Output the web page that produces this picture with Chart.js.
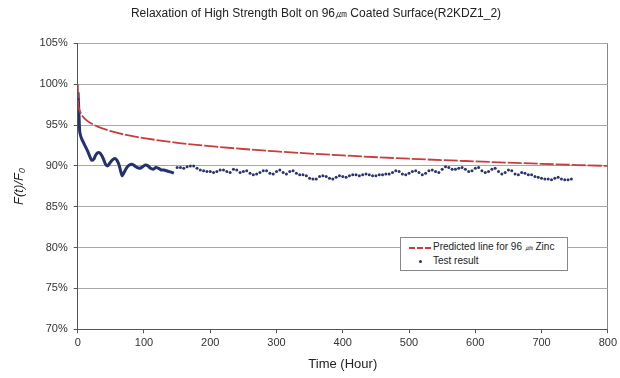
<!DOCTYPE html>
<html>
<head>
<meta charset="utf-8">
<script src="https://cdn.jsdelivr.net/npm/chart.js@4"></script>
<style>
html,body{margin:0;padding:0;background:#fff;}
#wrap{position:relative;width:620px;height:378px;}
#legend{position:absolute;left:400px;top:237px;width:168px;height:34px;border:1px solid #888;background:#fff;
 font-family:"Liberation Sans",Arial,sans-serif;font-size:10px;color:#222;box-sizing:border-box;}
#legend .row{position:absolute;left:0;height:14px;line-height:14px;white-space:nowrap;}
#legend .sw{display:inline-block;width:26px;margin-left:6px;vertical-align:middle;position:relative;height:10px;}
</style>
</head>
<body>
<div id="wrap">
<canvas id="c" width="620" height="378"></canvas>
<div id="legend">
 <div class="row" style="top:2px;"><span class="sw"><span style="position:absolute;left:2px;top:5px;width:22px;border-top:2px dashed #d03a3a;"></span></span>Predicted line for 96 <span style="font-size:8px">㎛</span> Zinc</div>
 <div class="row" style="top:16px;"><span class="sw"><span style="position:absolute;left:12px;top:4px;width:3px;height:3px;border-radius:50%;background:#2a3570;"></span></span>Test result</div>
</div>
</div>
<script>
// Predicted line (hours, ratio %)
const predT = [0,1,2,5,10,20,30,50,75,100,150,200,250,300,400,500,600,700,800];
const predV = [100,97.4,96.98,96.37,95.83,95.21,94.81,94.25,93.76,93.4,92.83,92.41,92.07,91.77,91.28,90.88,90.55,90.25,89.99];

// Test result, dense early recording (hours, %)
const denseT = [0.5,1,1.5,2,2.5,3,4,6,9,12,15,18,21,24,27,30,33,36,39,42,45,48,52,56,59,62,65,67,70,74,78,82,86,90,94,98,102,106,110,114,118,122,126,130,134,138,142,145];
const denseV = [99.0,98.0,97.0,96.0,95.0,94.2,93.8,93.3,92.8,92.3,91.8,91.2,90.7,90.8,91.3,91.6,91.6,91.3,90.8,90.2,90.0,90.3,90.7,90.9,90.7,90.2,89.3,88.8,89.2,89.8,90.1,90.2,90.0,89.8,89.7,89.9,90.1,90.0,89.7,89.6,89.8,89.7,89.5,89.5,89.4,89.3,89.2,89.1];

// Test result, sparse later recording (hours, %)
const testT = [150,155,160,165,170,175,180,185,190,195,200,205,210,215,220,225,230,235,240,245,250,255,260,265,270,275,280,285,290,295,300,305,310,315,320,325,330,335,340,345,350,355,360,365,370,375,380,385,390,395,400,405,410,415,420,425,430,435,440,445,450,455,460,465,470,475,480,485,490,495,500,505,510,515,520,525,530,535,540,545,550,555,560,565,570,575,580,585,590,595,600,605,610,615,620,625,630,635,640,645,650,655,660,665,670,675,680,685,690,695,700,705,710,715,720,725,730,735,740,745];
const testV = [89.8,89.8,89.7,89.9,90.0,90.0,89.7,89.5,89.4,89.3,89.3,89.2,89.3,89.5,89.5,89.3,89.2,89.6,89.5,89.2,89.3,89.4,89.1,88.9,89.0,89.2,89.4,89.4,89.1,89.0,89.3,89.5,89.2,89.0,89.3,89.4,89.1,88.9,88.9,88.8,88.5,88.4,88.4,88.7,88.8,88.7,88.5,88.4,88.6,88.8,88.7,88.6,88.8,88.9,88.9,88.8,88.9,89.0,88.9,88.8,88.8,88.9,88.9,89.0,89.0,89.2,89.4,89.3,89.0,88.9,89.1,89.3,89.4,89.2,88.9,89.1,89.4,89.5,89.3,89.2,89.6,89.9,89.8,89.6,89.6,89.7,89.8,89.6,89.3,89.4,89.7,89.8,89.4,89.2,89.3,89.6,89.7,89.3,89.0,89.2,89.5,89.4,89.0,88.9,89.2,89.1,88.9,88.9,88.7,88.6,88.5,88.4,88.4,88.3,88.5,88.6,88.4,88.3,88.3,88.4];

// Axis ticks
const xTicks = [0,100,200,300,400,500,600,700,800];
const yTicks = [70,75,80,85,90,95,100,105];

const zip = (a,b) => a.map((x,i)=>({x:x,y:b[i]}));
const FONT = '"Liberation Sans", Arial, sans-serif';

new Chart(document.getElementById('c'), {
  type: 'scatter',
  data: {
    datasets: [
      {label:'Predicted line', data: zip(predT,predV), showLine:true, borderColor:'#cc3c3c', borderWidth:1.8,
       borderDash:[14,2], pointRadius:0, tension:0.4, cubicInterpolationMode:'monotone', order:1},
      {label:'Test early', data: zip(denseT,denseV), showLine:true, borderColor:'#26306e', borderWidth:3,
       pointRadius:0, tension:0.3, order:2},
      {label:'Test result', data: zip(testT,testV), showLine:false, backgroundColor:'#2a3570', borderColor:'#2a3570',
       pointRadius:1.5, pointBorderWidth:0, order:3}
    ]
  },
  options: {
    responsive:false, animation:false,
    layout:{padding:{left:8,right:-4,top:0,bottom:6}},
    plugins:{
      legend:{display:false}, tooltip:{enabled:false},
      title:{display:true, text:'Relaxation of High Strength Bolt on 96㎛ Coated Surface(R2KDZ1_2)',
        color:'#222', font:{family:FONT,size:12,weight:'normal'}, padding:{top:6,bottom:23}}
    },
    scales:{
      x:{type:'linear', min:0, max:800,
        afterBuildTicks: s => { s.ticks = xTicks.map(v=>({value:v})); },
        ticks:{color:'#333', font:{family:FONT,size:11}, padding:3},
        grid:{drawOnChartArea:true, color: c => (c.tick && c.tick.value===800) ? '#888' : 'rgba(0,0,0,0)', tickLength:4, tickColor:'#555'},
        border:{color:'#555', width:1},
        title:{display:true, text:'Time (Hour)', color:'#222', font:{family:FONT,size:13}, padding:{top:4,bottom:0}}
      },
      y:{type:'linear', min:70, max:105,
        afterBuildTicks: s => { s.ticks = yTicks.map(v=>({value:v})); },
        ticks:{color:'#333', font:{family:FONT,size:11}, padding:6, callback: v => v+'%'},
        grid:{color:'#a8a8a8', lineWidth:1, tickLength:4, tickColor:'#555'},
        border:{color:'#555', width:1},
        title:{display:true, text:'F(t)/F₀', color:'#222', font:{family:FONT,size:13,style:'italic'}, padding:{bottom:6}}
      }
    }
  }
});
</script>
</body>
</html>
